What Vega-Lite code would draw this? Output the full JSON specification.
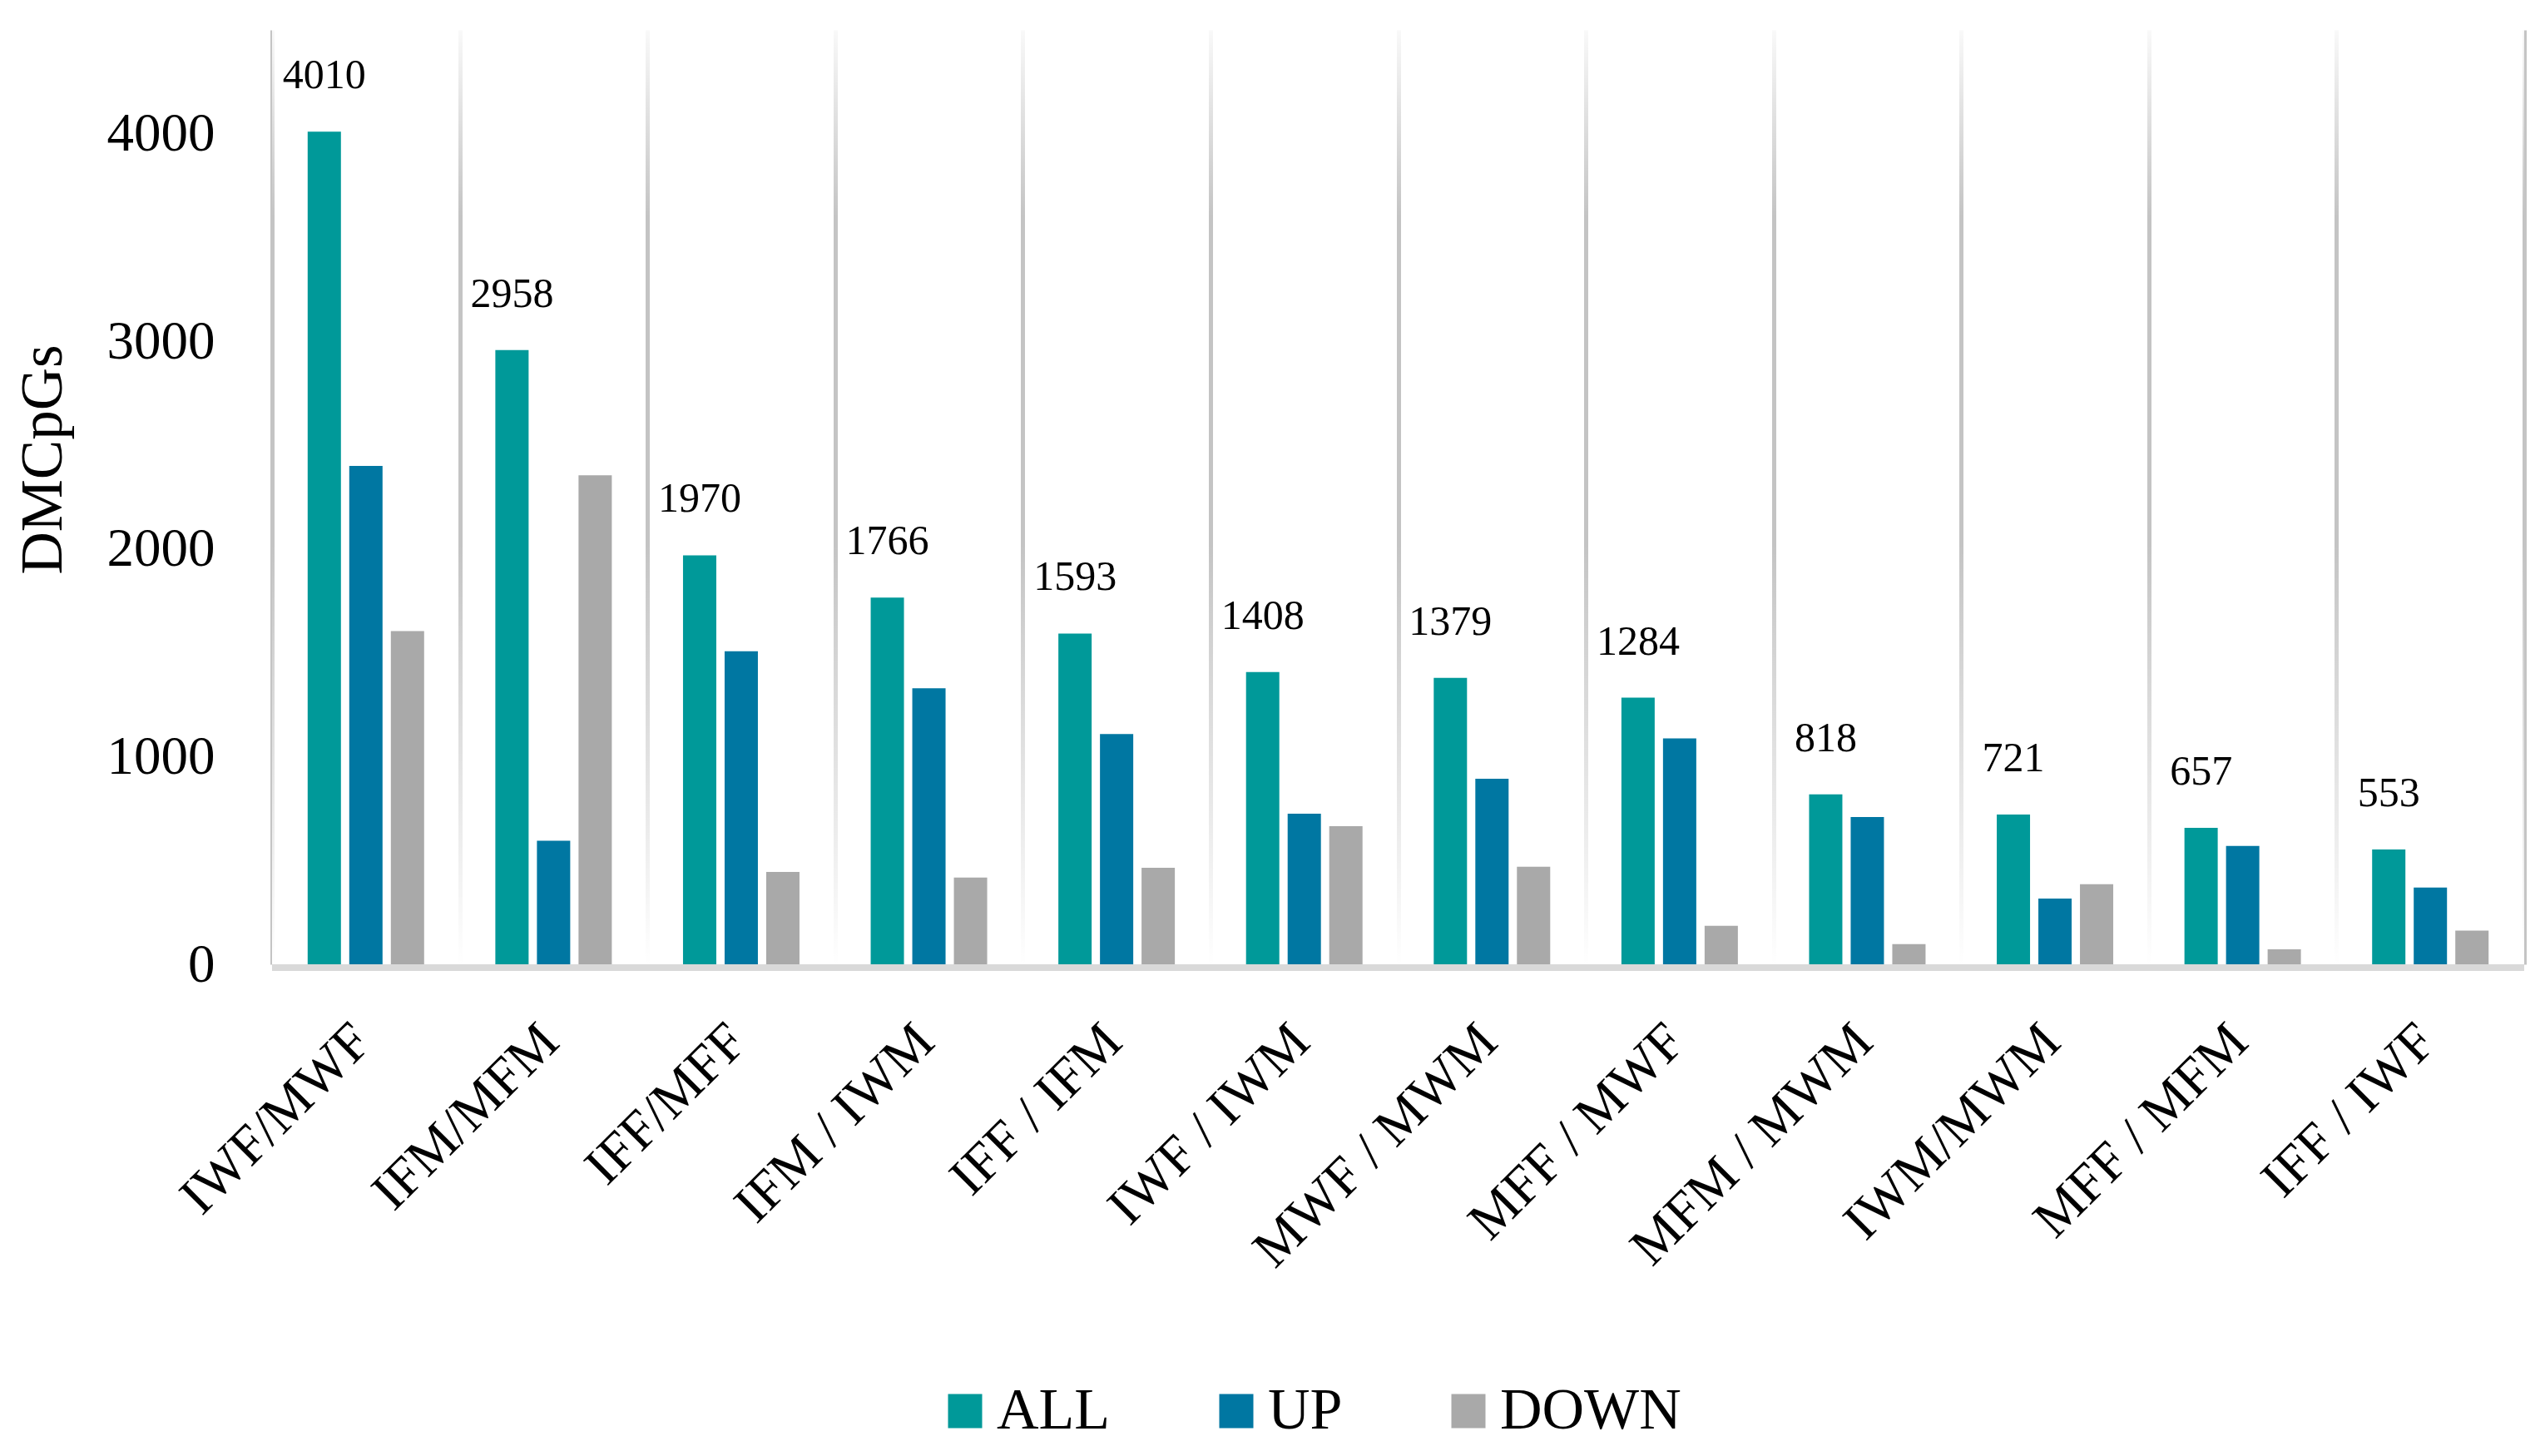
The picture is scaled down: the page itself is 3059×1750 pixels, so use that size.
{
  "$schema": "https://vega.github.io/schema/vega-lite/v6.json",
  "width": 2707,
  "height": 1123,
  "autosize": "none",
  "padding": {"left": 327, "top": 36, "right": 25, "bottom": 591},
  "background": "white",
  "config": {"view": {"stroke": null}, "font": "Liberation Serif"},
  "datasets": {
    "cpg": [
      {"cat": "IWF/MWF", "series": "ALL", "value": 4010},
      {"cat": "IWF/MWF", "series": "UP", "value": 2400},
      {"cat": "IWF/MWF", "series": "DOWN", "value": 1605},
      {"cat": "IFM/MFM", "series": "ALL", "value": 2958},
      {"cat": "IFM/MFM", "series": "UP", "value": 595},
      {"cat": "IFM/MFM", "series": "DOWN", "value": 2355},
      {"cat": "IFF/MFF", "series": "ALL", "value": 1970},
      {"cat": "IFF/MFF", "series": "UP", "value": 1508},
      {"cat": "IFF/MFF", "series": "DOWN", "value": 445},
      {"cat": "IFM / IWM", "series": "ALL", "value": 1766},
      {"cat": "IFM / IWM", "series": "UP", "value": 1329},
      {"cat": "IFM / IWM", "series": "DOWN", "value": 418},
      {"cat": "IFF / IFM", "series": "ALL", "value": 1593},
      {"cat": "IFF / IFM", "series": "UP", "value": 1109},
      {"cat": "IFF / IFM", "series": "DOWN", "value": 465},
      {"cat": "IWF / IWM", "series": "ALL", "value": 1408},
      {"cat": "IWF / IWM", "series": "UP", "value": 725},
      {"cat": "IWF / IWM", "series": "DOWN", "value": 665},
      {"cat": "MWF / MWM", "series": "ALL", "value": 1379},
      {"cat": "MWF / MWM", "series": "UP", "value": 894},
      {"cat": "MWF / MWM", "series": "DOWN", "value": 470},
      {"cat": "MFF / MWF", "series": "ALL", "value": 1284},
      {"cat": "MFF / MWF", "series": "UP", "value": 1088},
      {"cat": "MFF / MWF", "series": "DOWN", "value": 185},
      {"cat": "MFM / MWM", "series": "ALL", "value": 818},
      {"cat": "MFM / MWM", "series": "UP", "value": 709},
      {"cat": "MFM / MWM", "series": "DOWN", "value": 97},
      {"cat": "IWM/MWM", "series": "ALL", "value": 721},
      {"cat": "IWM/MWM", "series": "UP", "value": 317},
      {"cat": "IWM/MWM", "series": "DOWN", "value": 386},
      {"cat": "MFF / MFM", "series": "ALL", "value": 657},
      {"cat": "MFF / MFM", "series": "UP", "value": 570},
      {"cat": "MFF / MFM", "series": "DOWN", "value": 72},
      {"cat": "IFF / IWF", "series": "ALL", "value": 553},
      {"cat": "IFF / IWF", "series": "UP", "value": 370},
      {"cat": "IFF / IWF", "series": "DOWN", "value": 162}
    ],
    "one": [{"k": "plot"}]
  },
  "layer": [
    {
      "data": {"name": "one"},
      "mark": {
        "type": "rect",
        "fill": {
          "gradient": "linear",
          "x1": 0, "y1": 0, "x2": 0, "y2": 1,
          "stops": [
            {"offset": 0, "color": "rgba(255,255,255,0.9)"},
            {"offset": 0.2, "color": "rgba(255,255,255,0)"},
            {"offset": 0.55, "color": "rgba(255,255,255,0)"},
            {"offset": 1, "color": "rgba(255,255,255,1)"}
          ]
        }
      },
      "encoding": {
        "y": {"datum": 0, "type": "quantitative"},
        "y2": {"datum": 4500}
      }
    },
    {
      "data": {"name": "cpg"},
      "mark": {"type": "bar"},
      "encoding": {
        "x": {
          "field": "cat", "type": "nominal", "sort": null,
          "scale": {"paddingInner": 0, "paddingOuter": 0},
          "axis": {
            "title": null,
            "labelAngle": -45,
            "labelAlign": "right",
            "labelBaseline": "top",
            "labelFontSize": 65,
            "labelColor": "#000000",
            "labelPadding": 60,
            "labelOffset": -27,
            "labelLimit": 1000,
            "labelOverlap": false,
            "ticks": false,
            "domain": false,
            "grid": true,
            "gridColor": "#c4c4c4",
            "gridWidth": 5,
            "tickBand": "extent"
          }
        },
        "xOffset": {
          "field": "series", "type": "nominal",
          "sort": ["ALL", "UP", "DOWN"],
          "scale": {"paddingInner": 0.2, "paddingOuter": 0.856}
        },
        "y": {
          "field": "value", "type": "quantitative",
          "scale": {"domain": [0, 4500], "nice": false},
          "axis": {
            "values": [0, 1000, 2000, 3000, 4000],
            "format": "d",
            "domain": false,
            "ticks": false,
            "grid": false,
            "labelFontSize": 65,
            "labelColor": "#000000",
            "labelPadding": 69,
            "title": "DMCpGs",
            "titleFontSize": 71,
            "titleFontWeight": "normal",
            "titleColor": "#000000",
            "titleAngle": -90,
            "titleAlign": "center",
            "titleBaseline": "alphabetic",
            "titleX": -254,
            "titleY": 516
          }
        },
        "color": {
          "field": "series", "type": "nominal",
          "scale": {"domain": ["ALL", "UP", "DOWN"], "range": ["#009999", "#0077A2", "#A9A9A9"]},
          "legend": {
            "orient": "none",
            "legendX": 798,
            "legendY": 1625,
            "direction": "horizontal",
            "title": null,
            "symbolType": "square",
            "symbolSize": 1681,
            "symbolStrokeWidth": 0,
            "symbolOpacity": 1,
            "labelFontSize": 70,
            "labelColor": "#000000",
            "labelOffset": 3,
            "labelLimit": 1000,
            "columnPadding": 116,
            "padding": 0
          }
        }
      }
    },
    {
      "data": {"name": "cpg"},
      "transform": [{"filter": "datum.series == 'ALL'"}],
      "mark": {"type": "text", "fontSize": 50, "baseline": "alphabetic", "align": "center", "dy": -52, "color": "#000000"},
      "encoding": {
        "x": {"field": "cat", "type": "nominal", "sort": null},
        "xOffset": {"field": "series", "type": "nominal", "sort": ["ALL", "UP", "DOWN"]},
        "y": {"field": "value", "type": "quantitative"},
        "text": {"field": "value", "type": "quantitative", "format": "d"}
      }
    },
    {
      "data": {"name": "one"},
      "mark": {"type": "rule", "color": "#d9d9d9", "strokeWidth": 8, "yOffset": 4},
      "encoding": {"y": {"datum": 0, "type": "quantitative"}}
    }
  ]
}
